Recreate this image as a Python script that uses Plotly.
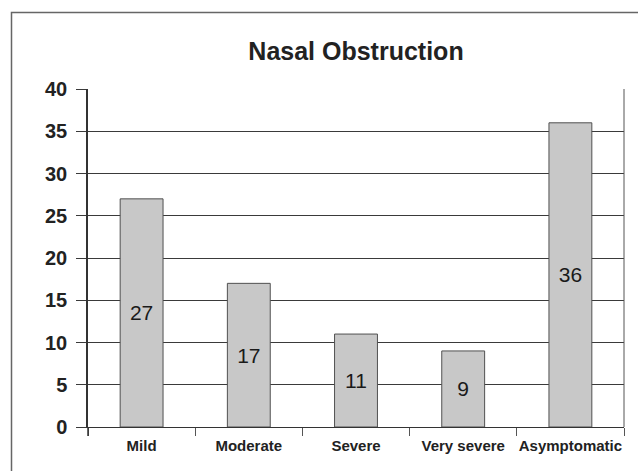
import plotly.graph_objects as go

categories = ["Mild", "Moderate", "Severe", "Very severe", "Asymptomatic"]
values = [27, 17, 11, 9, 36]
y_ticks = [0, 5, 10, 15, 20, 25, 30, 35, 40]

FONT = "Liberation Sans, Arial, sans-serif"
GRID = "#3a3a3a"

fig = go.Figure()
fig.add_trace(go.Bar(
    x=categories, y=values,
    width=0.4,
    marker=dict(color="#c8c8c8", line=dict(color="#505050", width=1)),
    text=[str(v) for v in values],
    textposition="inside", insidetextanchor="middle", textangle=0,
    constraintext="none",
    textfont=dict(family=FONT, size=21, color="#1a1a1a", weight="normal"),
    hoverinfo="skip",
))

W, H = 638, 471
L, R, T, B = 88, 14, 89, 44
pw, ph = W - L - R, H - T - B

def px_x(px):
    return (px - L) / pw

def px_y(py):
    return (H - B - py) / ph

fig.update_layout(
    width=W, height=H,
    margin=dict(l=L, r=R, t=T, b=B, autoexpand=False),
    paper_bgcolor="white", plot_bgcolor="white",
    showlegend=False,
    title=dict(text="<b>Nasal Obstruction</b>", x=0.5, xref="paper", xanchor="center",
               y=1 - 51 / H, yanchor="middle",
               font=dict(family=FONT, size=25, color="#222222")),
    xaxis=dict(
        type="category", tickson="boundaries", ticks="outside", ticklen=8,
        tickcolor="#555555", tickwidth=1, tickangle=0, automargin=False,
        showline=True, linecolor="#333333", linewidth=1, mirror=False,
        showgrid=False, zeroline=False,
        ticklabelstandoff=5,
        tickfont=dict(family=FONT, size=15, color="#222222", weight="bold"),
        range=[-0.5, 4.5],
    ),
    yaxis=dict(
        range=[0, 40], tickvals=y_ticks, ticktext=[str(t) for t in y_ticks],
        ticks="outside", ticklen=10, tickcolor=GRID, tickwidth=1, automargin=False,
        showgrid=True, gridcolor=GRID, gridwidth=1,
        showline=True, linecolor="#333333", linewidth=1.5,
        zeroline=False,
        ticklabelstandoff=5,
        tickfont=dict(family=FONT, size=20, color="#222222", weight="bold"),
    ),
    font=dict(family=FONT),
)

# right plot-area border
fig.add_shape(type="line", xref="paper", yref="paper", x0=1, x1=1, y0=0, y1=1,
              line=dict(color="#555555", width=1))
# left axis extension below zero
fig.add_shape(type="line", xref="paper", yref="paper", x0=0, x1=0, y0=px_y(436), y1=0,
              line=dict(color="#333333", width=1.5))
# outer chart border
fig.add_shape(type="rect", xref="paper", yref="paper",
              x0=px_x(11.5), x1=px_x(700), y0=px_y(520), y1=px_y(12.5),
              line=dict(color="#666666", width=1.5), fillcolor="rgba(0,0,0,0)", layer="below")

fig.write_html("out.html", config={"displayModeBar": False},
               post_script="document.body.style.margin='0';document.body.style.overflow='hidden';")
